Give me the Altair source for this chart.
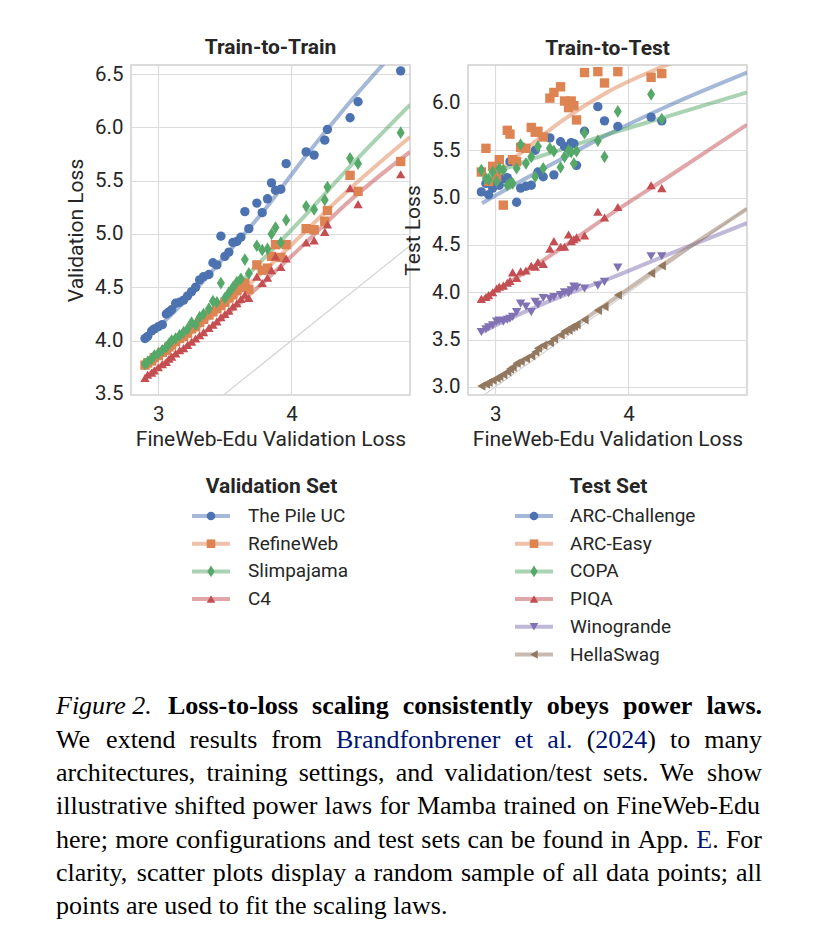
import altair as alt
import pandas as pd

# ---------------- data ----------------
VAL_SETS = ["The Pile UC", "RefineWeb", "Slimpajama", "C4"]
TEST_SETS = ["ARC-Challenge", "ARC-Easy", "COPA", "PIQA", "Winogrande", "HellaSwag"]
PALETTE = ["#4C72B0", "#DD8452", "#55A868", "#C44E52", "#8172B3", "#937860"]
THIN_DIAMOND = "M0,-1.35L0.85,0L0,1.35L-0.85,0Z"
SHAPES = ["circle", "square", THIN_DIAMOND, "triangle-up", "triangle-down", "triangle-left"]

# Train-to-Train: FineWeb-Edu validation loss of each sampled model
tt_x = [2.90, 2.92, 2.95, 2.97, 3.00, 3.03, 3.06, 3.08, 3.10, 3.13, 3.16, 3.19, 3.22,
        3.25, 3.28, 3.31, 3.34, 3.38, 3.41, 3.44, 3.47, 3.50, 3.53, 3.56, 3.59, 3.62,
        3.65, 3.68, 3.74, 3.78, 3.82, 3.85, 3.88, 3.92, 3.96, 4.11, 4.17, 4.25, 4.27,
        4.44, 4.50, 4.82]
tt_pile = [4.02, 4.04, 4.09, 4.11, 4.13, 4.15, 4.25, 4.27, 4.29, 4.35, 4.36, 4.38, 4.42,
           4.46, 4.50, 4.57, 4.60, 4.62, 4.73, 4.71, 4.98, 4.79, 4.83, 4.92, 4.93, 4.97,
           5.21, 5.05, 5.29, 5.20, 5.33, 5.48, 5.41, 5.42, 5.66, 5.77, 5.74, 5.88, 5.98,
           6.09, 6.24, 6.53]
tt_refineweb = [3.77, 3.79, 3.81, 3.84, 3.86, 3.89, 3.91, 3.94, 3.96, 3.99, 4.02, 4.04, 4.07,
                4.11, 4.13, 4.17, 4.20, 4.24, 4.27, 4.30, 4.33, 4.36, 4.40, 4.43, 4.47, 4.50,
                4.54, 4.48, 4.71, 4.66, 4.68, 4.79, 4.90, 4.78, 4.90, 5.05, 5.04, 5.12, 5.22,
                5.55, 5.40, 5.68]
tt_slimpajama = [3.78, 3.80, 3.83, 3.86, 3.88, 3.91, 3.94, 3.97, 4.00, 4.02, 4.05, 4.08, 4.11,
                 4.17, 4.15, 4.22, 4.25, 4.30, 4.37, 4.36, 4.54, 4.40, 4.45, 4.50, 4.55, 4.58,
                 4.76, 4.63, 4.89, 4.85, 4.86, 5.00, 5.06, 4.92, 5.13, 5.26, 5.23, 5.32, 5.44,
                 5.71, 5.66, 5.95]
tt_c4 = [3.65, 3.68, 3.70, 3.72, 3.75, 3.78, 3.80, 3.83, 3.85, 3.88, 3.91, 3.93, 3.96,
         3.99, 4.02, 4.05, 4.08, 4.12, 4.15, 4.18, 4.22, 4.25, 4.28, 4.32, 4.35, 4.39,
         4.43, 4.40, 4.60, 4.54, 4.59, 4.66, 4.79, 4.69, 4.77, 4.92, 4.94, 5.02, 5.09,
         5.43, 5.28, 5.56]

# fitted shifted power laws
tt_fit_x = [2.90, 3.20, 3.50, 3.80, 4.10, 4.40, 4.89]
tt_fit_pile = [4.01, 4.37, 4.79, 5.23, 5.72, 6.18, 6.87]
tt_fit_refineweb = [3.77, 4.03, 4.33, 4.66, 5.02, 5.38, 5.91]
tt_fit_slimpajama = [3.78, 4.07, 4.40, 4.78, 5.17, 5.58, 6.21]
tt_fit_c4 = [3.66, 3.94, 4.23, 4.56, 4.91, 5.27, 5.77]

# Train-to-Test
te_x = [2.895, 2.93, 2.95, 2.98, 3.01, 3.03, 3.06, 3.09, 3.11, 3.13, 3.16, 3.19, 3.23,
        3.27, 3.30, 3.32, 3.36, 3.41, 3.44, 3.49, 3.52, 3.55, 3.57, 3.59, 3.61, 3.67,
        3.77, 3.82, 3.92, 4.17, 4.25]
te_arc_c = [5.06, 5.15, 5.03, 5.10, 5.15, 5.13, 5.20, 5.21, 5.38, 5.40, 4.95, 5.10, 5.12,
            5.13, 5.50, 5.27, 5.22, 5.63, 5.24, 5.59, 5.54, 5.52, 5.58, 5.57, 5.34, 5.70,
            5.96, 5.81, 5.75, 5.85, 5.81]
te_arc_e = [5.27, 5.52, 5.17, 5.33, 5.22, 5.40, 4.92, 5.71, 5.67, 5.40, 5.38, 5.53, 5.52,
            5.74, 5.69, 5.70, 5.64, 6.05, 6.11, 6.17, 6.02, 5.95, 6.02, 5.97, 5.82, 6.32,
            6.33, 6.21, 6.33, 6.27, 6.31]
te_copa = [5.29, 5.20, 5.19, 5.27, 5.17, 5.31, 5.29, 5.13, 5.15, 5.15, 5.31, 5.56, 5.36,
           5.43, 5.22, 5.54, 5.31, 5.52, 5.49, 5.32, 5.43, 5.50, 5.48, 5.36, 5.49, 5.68,
           5.60, 5.43, 5.91, 6.09, 5.83]
te_piqa = [3.93, 3.95, 3.97, 4.00, 4.04, 4.06, 4.07, 4.10, 4.12, 4.21, 4.15, 4.22, 4.23,
           4.28, 4.27, 4.32, 4.30, 4.46, 4.54, 4.48, 4.48, 4.61, 4.54, 4.56, 4.58, 4.60,
           4.85, 4.79, 4.90, 5.13, 5.10]
te_winogrande = [3.58, 3.61, 3.63, 3.65, 3.69, 3.70, 3.69, 3.71, 3.72, 3.74, 3.79, 3.88, 3.85,
                 3.79, 3.90, 3.87, 3.94, 3.93, 3.95, 3.97, 4.00, 3.99, 4.02, 4.06, 4.05, 4.04,
                 4.07, 4.11, 4.26, 4.38, 4.38]
te_hellaswag = [3.01, 3.03, 3.05, 3.07, 3.09, 3.11, 3.13, 3.16, 3.19, 3.21, 3.25, 3.27, 3.30,
                3.33, 3.37, 3.41, 3.44, 3.47, 3.51, 3.55, 3.59, 3.60, 3.63, 3.64, 3.66, 3.71,
                3.81, 3.85, 3.97, 4.20, 4.28]

te_fit_x = [2.90, 3.20, 3.50, 3.85, 4.30, 4.89]
te_fit_arc_c = [4.94, 5.18, 5.41, 5.67, 5.97, 6.32]
te_fit_arc_e = [5.12, 5.48, 5.81, 6.12, 6.41, 6.75]
te_fit_copa = [5.21, 5.37, 5.51, 5.67, 5.86, 6.11]
te_fit_piqa = [3.93, 4.19, 4.47, 4.81, 5.22, 5.77]
te_fit_winogrande = [3.58, 3.78, 3.96, 4.14, 4.40, 4.73]
te_fit_hellaswag = [2.99, 3.26, 3.55, 3.89, 4.33, 4.88]

X_DOMAIN = [2.795, 4.89]
TT_Y_DOMAIN = [3.49, 6.585]
TE_Y_DOMAIN = [2.915, 6.40]

# caption text: each word is a list of (text, is_link) pieces
NAVY = "#001473"
CAP_LINE1_ITALIC = "Figure 2."
CAP_LINE1_BOLD = "Loss-to-loss scaling consistently obeys power laws."
CAP_LINES = [
    [[("We", 0)], [("extend", 0)], [("results", 0)], [("from", 0)],
     [("Brandfonbrener", 1)], [("et", 1)], [("al.", 1)],
     [("(", 0), ("2024", 1), (")", 0)], [("to", 0)], [("many", 0)]],
    "architectures, training settings, and validation/test sets. We show",
    "illustrative shifted power laws for Mamba trained on FineWeb-Edu",
    [[("here;", 0)], [("more", 0)], [("configurations", 0)], [("and", 0)], [("test", 0)],
     [("sets", 0)], [("can", 0)], [("be", 0)], [("found", 0)], [("in", 0)], [("App.", 0)],
     [("E", 1), (".", 0)], [("For", 0)]],
    "clarity, scatter plots display a random sample of all data points; all",
    "points are used to fit the scaling laws.",
]

# ---------------- text metrics (Times-compatible, per 1000 em) ----------------
ROMAN = {" ": 250, "(": 333, ")": 333, ",": 250, "-": 333, ".": 250, "/": 278, ";": 278,
         "0": 500, "1": 500, "2": 500, "3": 500, "4": 500, "5": 500, "6": 500, "7": 500,
         "8": 500, "9": 500, "A": 722, "B": 667, "E": 611, "F": 556, "M": 889, "W": 944,
         "a": 444, "b": 500, "c": 444, "d": 500, "e": 444, "f": 333, "g": 500, "h": 500,
         "i": 278, "l": 278, "m": 778, "n": 500, "o": 500, "p": 500, "r": 333, "s": 389,
         "t": 278, "u": 500, "v": 500, "w": 722, "y": 500}
BOLD = {" ": 250, "-": 333, ".": 250, "L": 667, "a": 500, "b": 556, "c": 444, "e": 444,
        "g": 500, "i": 278, "l": 278, "n": 556, "o": 500, "p": 556, "r": 444, "s": 389,
        "t": 333, "w": 722, "y": 500}
CAP_SIZE = 26


def text_width(s, table):
    return sum(table.get(ch, 500) for ch in s) * CAP_SIZE / 1000.0


def layout_words(words, x0, x1, table, y, justify=True):
    rows = []
    widths = [sum(text_width(t, table) for t, _ in w) for w in words]
    if justify and len(words) > 1:
        gap = (x1 - x0 - sum(widths)) / (len(words) - 1)
    else:
        gap = text_width(" ", table)
    x = x0
    for w, wd in zip(words, widths):
        xx = x
        for t, link in w:
            rows.append({"t": t, "x": xx, "y": y, "c": NAVY if link else "#000000"})
            xx += text_width(t, table)
        x += wd + gap
    return rows


def split_plain(s):
    return [[(w, 0)] for w in s.split(" ")]


# ---------------- helpers ----------------
INK = "#262626"
FONT = "Roboto"
SERIF = "Liberation Serif"
PW, PH = 279, 330


def long_points(x, series, names):
    rows = []
    for name, ys in zip(names, series):
        for xv, yv in zip(x, ys):
            rows.append({"set": name, "x": xv, "y": yv})
    return pd.DataFrame(rows)


def panel(points, fits, names, ydom, yvals, title, ytitle):
    n = len(names)
    color = alt.Color("set:N", scale=alt.Scale(domain=names, range=PALETTE[:n]), legend=None)
    shape = alt.Shape("set:N", scale=alt.Scale(domain=names, range=SHAPES[:n]), legend=None)
    xenc = alt.X("x:Q", scale=alt.Scale(domain=X_DOMAIN, nice=False, zero=False),
                 axis=alt.Axis(values=[3, 4], format="d", title="FineWeb-Edu Validation Loss"))
    yenc = alt.Y("y:Q", scale=alt.Scale(domain=ydom, nice=False, zero=False),
                 axis=alt.Axis(values=yvals, format=".1f", title=ytitle))
    diag = pd.DataFrame({"x": X_DOMAIN, "y": X_DOMAIN})
    d = alt.Chart(diag).mark_line(color="#d4d4d4", strokeWidth=1.2, clip=True).encode(x=xenc, y=yenc)
    f = alt.Chart(fits).mark_line(strokeWidth=4, opacity=0.5, clip=True, interpolate="monotone").encode(
        x=xenc, y=yenc, color=color, detail="set:N")
    p = alt.Chart(points).mark_point(filled=True, size=88, opacity=1, strokeWidth=0).encode(
        x=xenc, y=yenc, color=color, shape=shape)
    return alt.layer(d, f, p).properties(width=PW, height=PH, title=title)


def legend(names, title, x0, x1, xm, xt, extra=None):
    n = len(names)
    df = pd.DataFrame({"set": names, "idx": list(range(n))})
    color = alt.Color("set:N", scale=alt.Scale(domain=names, range=PALETTE[:n]), legend=None)
    shape = alt.Shape("set:N", scale=alt.Scale(domain=names, range=SHAPES[:n]), legend=None)
    yenc = alt.Y("idx:Q", scale=alt.Scale(domain=[0, 5], range=[45, 45 + 5 * 27.7]), axis=None)
    base = alt.Chart(df)
    r = base.mark_rule(strokeWidth=4, opacity=0.5).encode(x=alt.value(x0), x2=alt.value(x1), y=yenc, color=color)
    p = base.mark_point(filled=True, size=74, opacity=1, strokeWidth=0).encode(
        x=alt.value(xm), y=yenc, color=color, shape=shape)
    t = base.mark_text(align="left", baseline="middle", font=FONT, fontSize=19, color=INK).encode(
        x=alt.value(xt), y=yenc, text="set:N")
    tt = alt.Chart(pd.DataFrame({"t": [title]})).mark_text(
        align="center", baseline="middle", font=FONT, fontSize=21, fontWeight="bold", color=INK
    ).encode(x=alt.value(PW / 2 + 1), y=alt.value(16), text="t:N")
    layers = [r, p, t, tt] + (extra or [])
    return alt.layer(*layers).properties(width=PW, height=200,
                                         view=alt.ViewBackground(strokeOpacity=0))


def cap_layer(rows, style="normal", weight="normal"):
    return alt.Chart(pd.DataFrame(rows)).mark_text(
        align="left", baseline="middle", font=SERIF, fontSize=CAP_SIZE,
        fontStyle=style, fontWeight=weight
    ).encode(x=alt.X("x:Q", scale=None), y=alt.Y("y:Q", scale=None), text="t:N",
             color=alt.Color("c:N", scale=None))


# ---------------- panels ----------------
tt_points = long_points(tt_x, [tt_pile, tt_refineweb, tt_slimpajama, tt_c4], VAL_SETS)
tt_fits = long_points(tt_fit_x, [tt_fit_pile, tt_fit_refineweb, tt_fit_slimpajama, tt_fit_c4], VAL_SETS)
te_points = long_points(te_x, [te_arc_c, te_arc_e, te_copa, te_piqa, te_winogrande, te_hellaswag], TEST_SETS)
te_fits = long_points(te_fit_x, [te_fit_arc_c, te_fit_arc_e, te_fit_copa, te_fit_piqa,
                                 te_fit_winogrande, te_fit_hellaswag], TEST_SETS)

left = panel(tt_points, tt_fits, VAL_SETS, TT_Y_DOMAIN, [3.5, 4.0, 4.5, 5.0, 5.5, 6.0, 6.5],
             "Train-to-Train", "Validation Loss")
right = panel(te_points, te_fits, TEST_SETS, TE_Y_DOMAIN, [3.0, 3.5, 4.0, 4.5, 5.0, 5.5, 6.0],
              "Train-to-Test", "Test Loss")

# ---------------- caption (relative to the left legend's origin) ----------------
OX = 131
X0, X1 = 56 - OX, 762 - OX
cy = [235, 269, 302, 335, 369, 402, 435]
italic_rows = [{"t": CAP_LINE1_ITALIC, "x": X0, "y": cy[0], "c": "#000000"}]
bold_rows = layout_words(split_plain(CAP_LINE1_BOLD), 168 - OX, X1, BOLD, cy[0])
normal_rows = []
for i, line in enumerate(CAP_LINES):
    words = split_plain(line) if isinstance(line, str) else line
    last = i == len(CAP_LINES) - 1
    normal_rows += layout_words(words, X0, X1, ROMAN, cy[i + 1], justify=not last)

caption = [cap_layer(italic_rows, style="italic"),
           cap_layer(bold_rows, weight="bold"),
           cap_layer(normal_rows)]

leg_left = legend(VAL_SETS, "Validation Set", 61, 99, 80, 117, extra=caption)
leg_right = legend(TEST_SETS, "Test Set", 47, 85, 66, 102)

chart = alt.concat(left, right, leg_left, leg_right, columns=2,
                   spacing=alt.RowColnumber(row=76, column=58), bounds="flush")
chart = chart.resolve_scale(color="independent", shape="independent")

chart = chart.properties(
    padding={"left": 48, "top": 28, "right": 10, "bottom": 5}
).configure_view(
    stroke="#d0d0d0", strokeWidth=1.5
).configure_axis(
    labelFont=FONT, titleFont=FONT, labelFontSize=20.5, titleFontSize=21,
    labelColor=INK, titleColor=INK, titleFontWeight="normal",
    gridColor="#dcdcdc", gridWidth=1.2, ticks=False, domain=False,
    labelPadding=8, titlePadding=8
).configure_axisX(labelPadding=9, titlePadding=4).configure_title(
    font=FONT, fontSize=21, fontWeight="bold", color=INK, offset=6, anchor="middle"
)

chart.save("out.html", embed_options={"renderer": "svg", "actions": False})
